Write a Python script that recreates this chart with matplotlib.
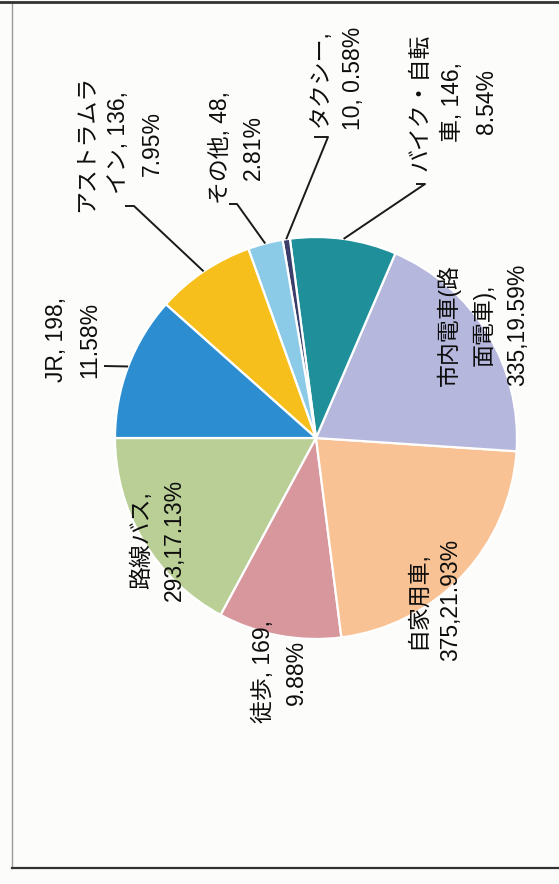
import matplotlib
matplotlib.use("Agg")
import matplotlib.pyplot as plt
import numpy as np

plt.rcParams['font.family'] = ['Liberation Sans', 'Noto Sans CJK JP', 'DejaVu Sans']

# data (slices in drawing order, counter-clockwise from the left horizontal)
categories = ['路線バス', '徒歩', '自家用車', '市内電車(路面電車)', 'バイク・自転車',
              'タクシー', 'その他', 'アストラムライン', 'JR']
counts = [293, 169, 375, 335, 146, 10, 48, 136, 198]
percents = ['17.13%', '9.88%', '21.93%', '19.59%', '8.54%', '0.58%', '2.81%', '7.95%', '11.58%']
label_texts = [
    '路線バス,\n293,17.13%',
    '徒歩, 169,\n9.88%',
    '自家用車,\n375,21.93%',
    '市内電車(路\n面電車),\n335,19.59%',
    'バイク・自転\n車, 146,\n8.54%',
    'タクシー,\n10, 0.58%',
    'その他, 48,\n2.81%',
    'アストラムラ\nイン, 136,\n7.95%',
    'JR, 198,\n11.58%',
]
colors = ['#b9cf96', '#d8979d', '#f8c295', '#b6b7dc', '#1f8f99',
          '#3b3e6b', '#8ccbe8', '#f6bf1c', '#2c8ed0']

# layout in image pixels (x right, y down)
W, H = 559, 884
center_px = (316, 438)
radius_px = 201
label_pos = [(158, 540), (280, 672), (434, 600), (483, 325), (453, 102),
             (337, 78), (237, 148), (119, 143), (73, 340)]
# leader: elbow point and tail end (None = no leader)
leaders = [None, None, None, None,
           ((425, 184), (416, 184)),
           ((328, 137), (314, 137)),
           ((237, 204), (229, 204)),
           ((134, 206), (125, 206)),
           ((104, 366), None)]

fig = plt.figure(figsize=(W / 100, H / 100), dpi=100, facecolor='#fcfcfa')
ax = fig.add_axes([0, 0, 1, 1])
ax.set_facecolor('#fcfcfa')

cx, cy = center_px[0], H - center_px[1]
wedges, _ = ax.pie(counts, colors=colors, startangle=180, counterclock=True,
                   center=(cx, cy), radius=radius_px,
                   wedgeprops=dict(edgecolor='white', linewidth=1.6))

for w, txt, pos, ld in zip(wedges, label_texts, label_pos, leaders):
    ax.text(pos[0], H - pos[1], txt, rotation=90, ha='center', va='center',
            multialignment='center', fontsize=16.5, linespacing=1.58, color='#0d0d0d')
    if ld is None:
        continue
    mid = np.deg2rad((w.theta1 + w.theta2) / 2)
    ex = cx + radius_px * np.cos(mid)
    ey = cy + radius_px * np.sin(mid)
    elbow, tail = ld
    xs = [ex, elbow[0]]
    ys = [ey, H - elbow[1]]
    if tail is not None:
        xs.append(tail[0])
        ys.append(H - tail[1])
    ax.plot(xs, ys, color='#1a1a1a', lw=1.4, solid_capstyle='butt')

# chart border (scanned frame)
ax.plot([12, 12], [H - 2, H - 868], color='#9a9a9a', lw=1.0)
ax.plot([12, W], [H - 868, H - 868], color='#333333', lw=1.6)
ax.plot([0, W], [H - 1.5, H - 1.5], color='#333333', lw=2.0)

ax.set_xlim(0, W)
ax.set_ylim(0, H)
ax.set_aspect('equal')
ax.axis('off')

fig.savefig('out.png', dpi=100, facecolor=fig.get_facecolor())
